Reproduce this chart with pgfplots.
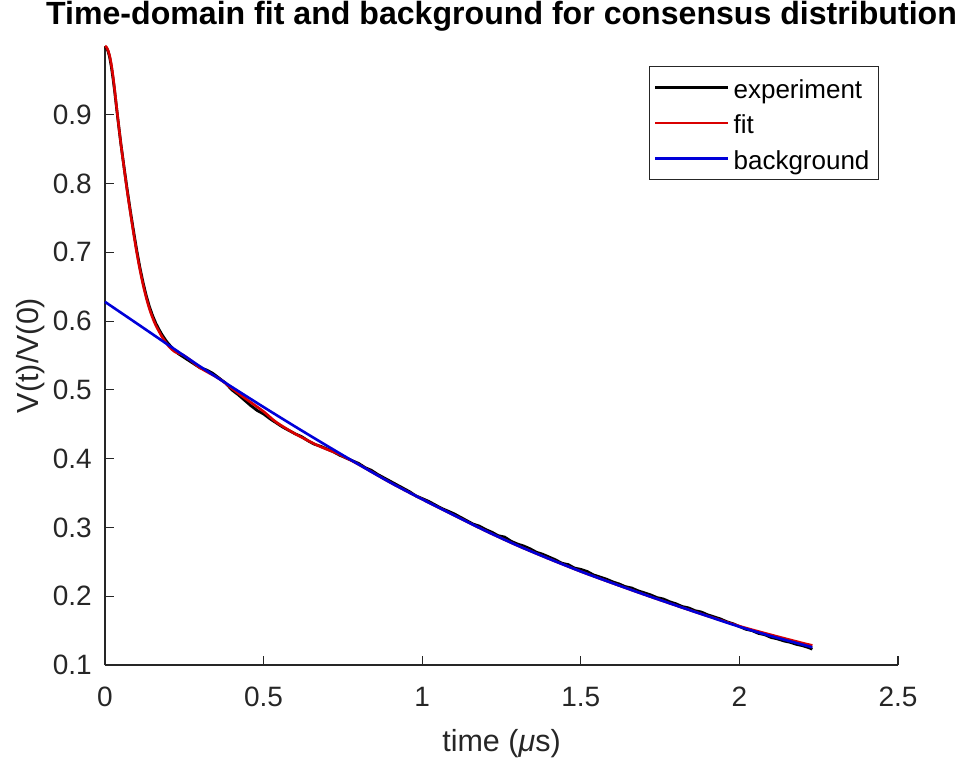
\documentclass[border=0pt]{standalone}
\usepackage{fontspec}
\setmainfont{Liberation Sans}
\usepackage{pgfplots}
\pgfplotsset{compat=1.18}
\definecolor{axgray}{rgb}{0.15,0.15,0.15}
\definecolor{fitred}{rgb}{0.85,0,0}
\definecolor{bgblue}{rgb}{0,0,0.85}
\begin{document}
\begin{tikzpicture}
\useasboundingbox (-105pt,-101pt) rectangle (858pt,665pt);
\begin{axis}[
  scale only axis,
  width=793pt, height=619pt,
  xmin=0, xmax=2.5, ymin=0.1, ymax=1.0,
  axis lines=left,
  axis line style={-, axgray, line width=1.2pt},
  every tick/.style={axgray, line width=1.2pt},
  tick align=inside,
  major tick length=9pt,
  xtick={0,0.5,1,1.5,2,2.5},
  ytick={0.1,0.2,0.3,0.4,0.5,0.6,0.7,0.8,0.9},
  /pgf/number format/assume math mode=true,
  yticklabel style={/pgf/number format/fixed, /pgf/number format/precision=1, /pgf/number format/fixed zerofill},
  ticklabel style={font=\fontsize{28}{32}\selectfont, text=axgray},
  xticklabel style={inner sep=0pt, yshift=-22pt},
  yticklabel style={inner sep=0pt, xshift=-13pt},
  clip=false,
  title={Time-domain fit and background for consensus distribution},
  title style={at={([yshift=15pt]axis description cs:0.5,1)}, anchor=base, font=\bfseries\fontsize{32.1}{38}\selectfont, inner sep=0pt},
  xlabel={time (\textit{μ}s)},
  xlabel style={at={([yshift=-86pt]axis description cs:0.5,0)}, anchor=base, font=\fontsize{30.5}{36}\selectfont, text=axgray, inner sep=0pt},
  ylabel={V(t)/V(0)},
  ylabel style={at={([xshift=-66pt]axis description cs:0,0.5)}, anchor=base, rotate=0, font=\fontsize{30.5}{36}\selectfont, text=axgray, inner sep=0pt},
  legend style={at={(0.976,0.968)}, anchor=north east, draw=axgray, line width=1pt, font=\fontsize{26}{30}\selectfont,
    inner xsep=5pt, inner ysep=3.5pt,
    nodes={text height=23pt, text depth=2pt, inner ysep=5.25pt, inner xsep=4pt}},
  legend cell align=left,
  legend image code/.code={\draw[#1, line width=2.2pt] (0pt,0pt) -- (73pt,0pt);},
]
\addplot[black, line width=2.8pt] coordinates {
(0,0.999) (0.005,0.997) (0.01,0.992) (0.015,0.983) (0.02,0.970) (0.025,0.954) (0.03,0.936)
(0.04,0.896) (0.05,0.858) (0.06,0.824) (0.07,0.791) (0.08,0.760) (0.09,0.731) (0.10,0.703)
(0.11,0.678) (0.12,0.656) (0.13,0.637) (0.14,0.621) (0.15,0.608) (0.16,0.597) (0.17,0.588)
(0.18,0.580) (0.19,0.573) (0.20,0.567) (0.21,0.562) (0.22,0.557) (0.23,0.553) (0.24,0.550)
(0.25,0.547) (0.26,0.544) (0.28,0.538) (0.30,0.532) (0.32,0.529) (0.34,0.524) (0.36,0.517)
(0.38,0.510) (0.40,0.500) (0.42,0.493) (0.44,0.485) (0.46,0.477) (0.48,0.470) (0.50,0.465)
(0.52,0.458) (0.54,0.452) (0.56,0.446) (0.58,0.441) (0.60,0.436) (0.62,0.432) (0.64,0.426)
(0.66,0.421) (0.68,0.418) (0.70,0.414) (0.72,0.410) (0.74,0.405) (0.76,0.401) (0.78,0.397)
(0.80,0.393) (0.82,0.387) (0.84,0.383) (0.86,0.377) (0.88,0.372) (0.90,0.367) (0.92,0.362)
(0.94,0.357) (0.96,0.352) (0.98,0.346) (1.00,0.342) (1.02,0.338) (1.04,0.333) (1.06,0.328)
(1.08,0.324) (1.10,0.320) (1.12,0.315) (1.14,0.310) (1.16,0.305) (1.18,0.302) (1.20,0.297)
(1.22,0.293) (1.24,0.288) (1.26,0.286) (1.28,0.280) (1.30,0.276) (1.32,0.273) (1.34,0.269)
(1.36,0.264) (1.38,0.261) (1.40,0.257) (1.42,0.253) (1.44,0.248) (1.46,0.246) (1.48,0.241)
(1.50,0.239) (1.52,0.236) (1.54,0.231) (1.56,0.228) (1.58,0.225) (1.60,0.221) (1.62,0.218)
(1.64,0.214) (1.66,0.212) (1.68,0.208) (1.70,0.205) (1.72,0.202) (1.74,0.198) (1.76,0.196)
(1.78,0.192) (1.80,0.189) (1.82,0.185) (1.84,0.183) (1.86,0.179) (1.88,0.177) (1.90,0.173)
(1.92,0.170) (1.94,0.167) (1.96,0.163) (1.98,0.160) (2.00,0.156) (2.02,0.152) (2.04,0.150)
(2.06,0.146) (2.08,0.144) (2.10,0.140) (2.12,0.138) (2.14,0.135) (2.16,0.133) (2.18,0.130)
(2.20,0.128) (2.22,0.125) (2.23,0.123)
};
\addlegendentry{experiment}
\addplot[fitred, line width=2.6pt, smooth] coordinates {
(0,1.000) (0.005,0.998) (0.01,0.993) (0.015,0.985) (0.02,0.973) (0.025,0.957) (0.03,0.938)
(0.04,0.897) (0.05,0.858) (0.06,0.823) (0.07,0.789) (0.08,0.758) (0.09,0.728) (0.10,0.700)
(0.11,0.675) (0.12,0.653) (0.13,0.634) (0.14,0.618) (0.15,0.605) (0.16,0.594) (0.18,0.577)
(0.20,0.564) (0.22,0.5555) (0.247,0.5505) (0.27,0.543) (0.30,0.532) (0.35,0.519) (0.373,0.512)
(0.40,0.502) (0.45,0.485) (0.50,0.4685) (0.54,0.453) (0.60,0.436) (0.667,0.420) (0.70,0.4135)
(0.73,0.408) (0.75,0.4035) (0.80,0.3915) (0.9,0.3652) (1.0,0.341) (1.1,0.3178) (1.2,0.295)
(1.3,0.2738) (1.4,0.2544) (1.5,0.236) (1.6,0.219) (1.7,0.2025) (1.8,0.1866) (1.9,0.1712)
(2.0,0.1565) (2.1,0.1438) (2.2,0.1318) (2.23,0.1285)
};
\addlegendentry{fit}
\addplot[bgblue, line width=2.6pt, smooth] coordinates {
(0,0.628) (0.1,0.5967) (0.2,0.5652) (0.3,0.534) (0.4,0.5042) (0.5,0.475) (0.6,0.4465)
(0.7,0.4187) (0.8,0.3915) (0.9,0.3652) (1.0,0.341) (1.1,0.3178) (1.2,0.295) (1.3,0.2738)
(1.4,0.2544) (1.5,0.236) (1.6,0.219) (1.7,0.2025) (1.8,0.1866) (1.9,0.171) (2.0,0.1557)
(2.1,0.1420) (2.2,0.1295) (2.23,0.1258)
};
\addlegendentry{background}
\end{axis}
\end{tikzpicture}
\end{document}
